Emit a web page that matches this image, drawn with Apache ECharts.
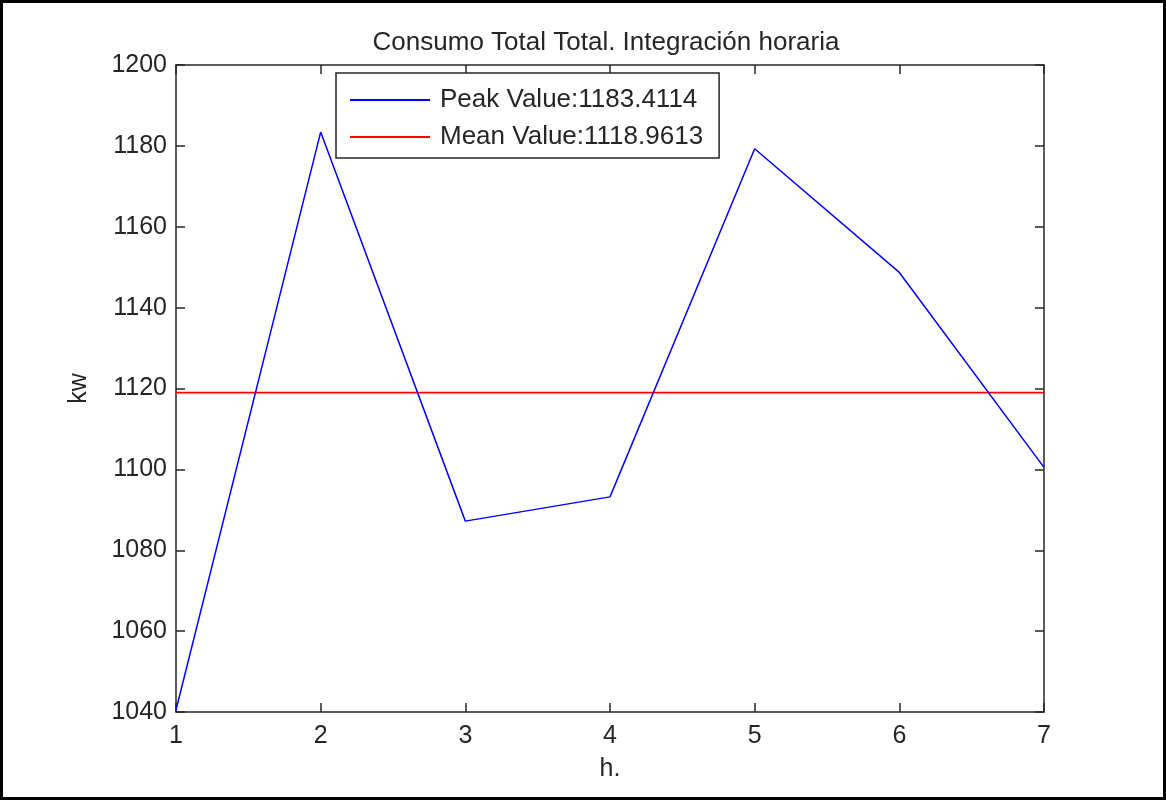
<!DOCTYPE html>
<html>
<head>
<meta charset="utf-8">
<script src="https://cdn.jsdelivr.net/npm/echarts@6/dist/echarts.min.js"></script>
<style>
  html, body { margin: 0; padding: 0; background: #fff; }
  #frame { position: absolute; left: 0; top: 0; width: 1166px; height: 800px; box-sizing: border-box; border: 3px solid #000; }
  #chart { width: 1160px; height: 794px; }
</style>
</head>
<body>
<div id="frame"><div id="chart"></div></div>
<script>
// Hours and hourly integrated total consumption (kW)
const hours = [1, 2, 3, 4, 5, 6, 7];
const consumption = [1040.5, 1183.4114, 1087.2, 1093.2, 1179.3, 1148.7, 1100.5];
const peakValue = 1183.4114;
const meanValue = 1118.9613;
const yTicks = [1040, 1060, 1080, 1100, 1120, 1140, 1160, 1180, 1200];

const FONT = 'Liberation Sans';
const TXT = '#262626';

const chart = echarts.init(document.getElementById('chart'), null, { renderer: 'canvas' });

const axisCommon = {
  axisLine: { show: true, onZero: false, lineStyle: { color: '#262626', width: 1.5 } },
  axisTick: { show: true, inside: true, length: 9, lineStyle: { color: '#262626', width: 1.5 } },
  splitLine: { show: false }
};

chart.setOption({
  animation: false,
  backgroundColor: '#fff',
  title: {
    text: 'Consumo Total Total. Integración horaria',
    left: 598, top: 22, textAlign: 'center',
    textStyle: { fontFamily: FONT, fontSize: 26, fontWeight: 'normal', color: TXT }
  },
  legend: {
    orient: 'vertical',
    left: 333, top: 70,
    padding: [14, 16, 8, 14],
    itemGap: 11,
    itemWidth: 80, itemHeight: 2,
    icon: 'rect',
    borderColor: '#262626', borderWidth: 1.5,
    backgroundColor: '#fff',
    textStyle: { fontFamily: FONT, fontSize: 26, color: TXT, padding: [0, 0, 0, 5] },
    data: ['Peak Value:' + peakValue.toFixed(4), 'Mean Value:' + meanValue.toFixed(4)]
  },
  grid: { left: 173, right: 119, top: 62, bottom: 85, containLabel: false },
  xAxis: [
    Object.assign({
      type: 'value', min: hours[0], max: hours[hours.length - 1], interval: 1,
      name: 'h.', nameLocation: 'middle', nameGap: 45,
      nameTextStyle: { fontFamily: FONT, fontSize: 25, color: TXT },
      axisLabel: { fontFamily: FONT, fontSize: 25, color: TXT, margin: 12, formatter: v => String(v) }
    }, axisCommon),
    Object.assign({
      type: 'value', position: 'top', min: hours[0], max: hours[hours.length - 1], interval: 1,
      axisLabel: { show: false }
    }, axisCommon)
  ],
  yAxis: [
    Object.assign({
      type: 'value', min: yTicks[0], max: yTicks[yTicks.length - 1], interval: 20,
      name: 'kw', nameLocation: 'middle', nameGap: 84, nameRotate: 90,
      nameTextStyle: { fontFamily: FONT, fontSize: 25, color: TXT },
      axisLabel: { fontFamily: FONT, fontSize: 25, color: TXT, margin: 9, formatter: v => String(v) }
    }, axisCommon),
    Object.assign({
      type: 'value', position: 'right', min: yTicks[0], max: yTicks[yTicks.length - 1], interval: 20,
      axisLabel: { show: false }
    }, axisCommon)
  ],
  series: [
    {
      name: 'Peak Value:' + peakValue.toFixed(4),
      type: 'line',
      data: hours.map((h, i) => [h, consumption[i]]),
      showSymbol: false, symbol: 'none',
      lineStyle: { color: '#0000FF', width: 1.5 },
      itemStyle: { color: '#0000FF' },
      z: 3
    },
    {
      name: 'Mean Value:' + meanValue.toFixed(4),
      type: 'line',
      data: [[hours[0], meanValue], [hours[hours.length - 1], meanValue]],
      showSymbol: false, symbol: 'none',
      lineStyle: { color: '#FF0000', width: 1.8 },
      itemStyle: { color: '#FF0000' },
      z: 2
    }
  ]
});
</script>
</body>
</html>
